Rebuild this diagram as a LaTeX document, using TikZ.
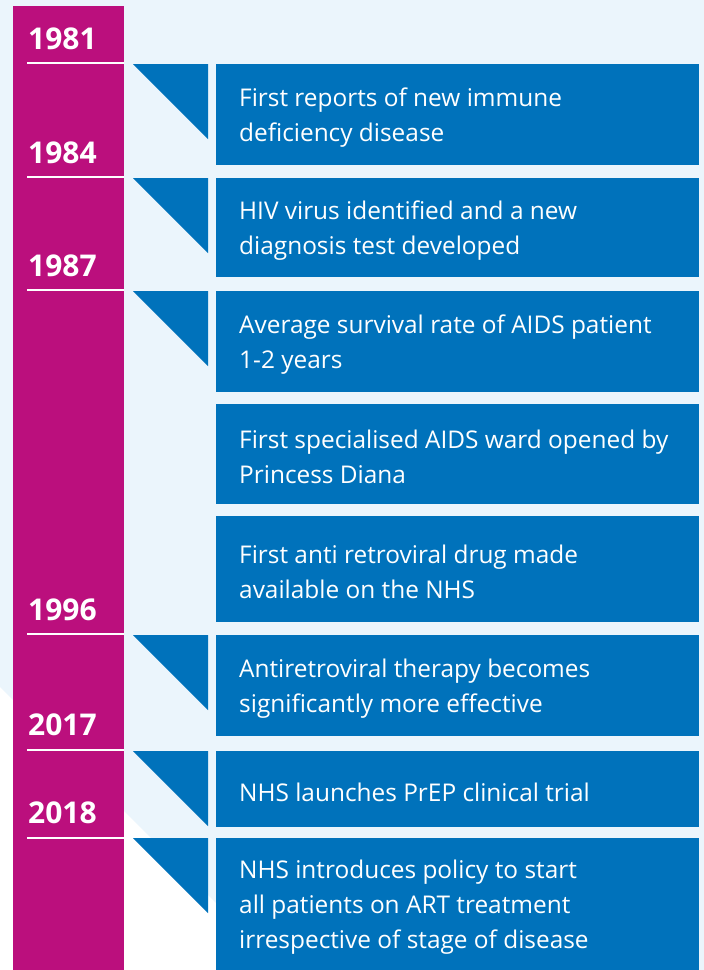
\documentclass[tikz,border=0pt]{standalone}
\usepackage{fontspec}
\setmainfont{Open Sans}
\definecolor{nhsmagenta}{RGB}{187,15,125}
\definecolor{nhsblue}{RGB}{0,114,187}
\definecolor{paleblue}{RGB}{235,245,252}
\begin{document}
\begin{tikzpicture}[x=1pt, y=-1pt,
        box/.style={fill=nhsblue, anchor=north west, inner sep=0pt, minimum width=483pt},
        txt/.style={text=white, anchor=west, inner xsep=23pt, inner ysep=0pt, align=left, font=\fontsize{24.4}{35}\selectfont},
        yr/.style={text=white, anchor=base west, inner sep=0pt, font=\bfseries\fontsize{30}{30}\selectfont}]
            \useasboundingbox (0,0) rectangle (704,970);
            \fill[paleblue] (0,0) rectangle (704,970);
            \fill[white] (0,687)--(283,970)--(0,970)--cycle;
            \fill[nhsmagenta] (13,6) rectangle (124,970);
            \foreach \y/\t in {49/1981,163/1984,276/1987,620/1996,735/2017,823/2018}
            \node[yr] (yr\t) at (28,\y) {\t};
            \foreach \y in {63,177,290,634,750,838}
            \draw[white, line width=1.2pt] (27,\y)--(124,\y);
            \foreach \y in {64,178,291,635,751,838}
            \fill[nhsblue] (133,\y)--(208,\y)--(208,{\y+75})--cycle;
            \foreach \n/\y/\h/\txt in {1/64/101/First reports of new immune\\deficiency disease,
                2/178/99/HIV virus identified and a new\\diagnosis test developed,
                3/291/101/Average survival rate of AIDS patient\\1-2 years,
                4/404/100/First specialised AIDS ward opened by\\Princess Diana,
                5/516/106/First anti retroviral drug made\\available on the NHS,
                6/635/101/Antiretroviral therapy becomes\\significantly more effective,
                7/751/76/NHS launches PrEP clinical trial,
                8/838/132/NHS introduces policy to start\\all patients on ART treatment\\irrespective of stage of disease}
            {\node[box, minimum height=\h pt] (box\n) at (216,\y) {};
            \node[txt] (txt\n) at ([yshift=-3pt]box\n.west) {\txt};}
\end{tikzpicture}
\end{document}
